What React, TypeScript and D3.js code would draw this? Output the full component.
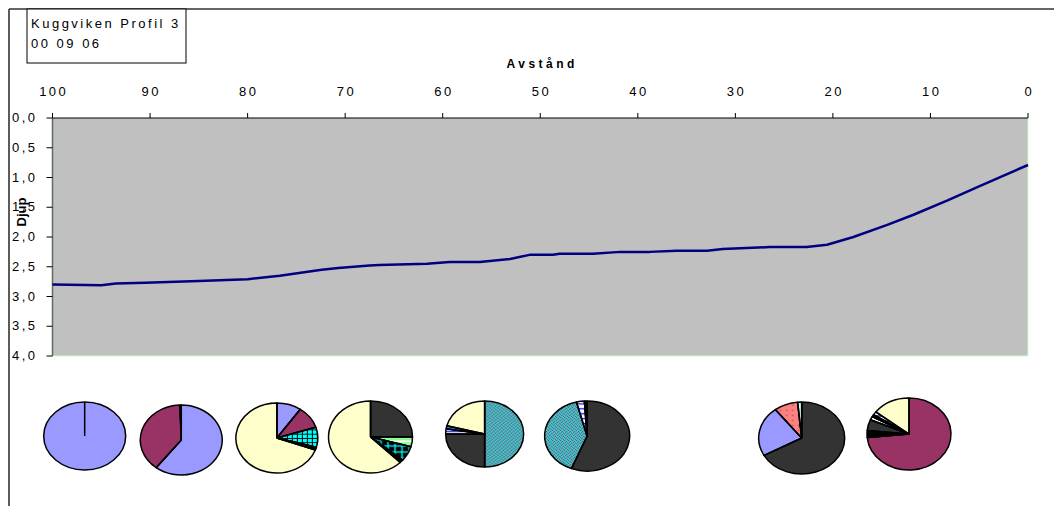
import React from "react";
import * as d3 from "d3";

// ---- data ----
const distances = [100, 95, 93.5, 90.5, 85, 80, 76.7, 72.4, 70.7, 67.5, 66.5, 61.6, 59.3, 56.2, 53.1, 51.1, 48.7, 48, 44.6, 41.8, 38.8, 36, 32.9, 31.3, 26.5, 22.7, 20.6, 17.9, 14.5, 11.8, 8.3, 4.9, 0];
const depths = [2.8, 2.81, 2.78, 2.77, 2.74, 2.71, 2.65, 2.55, 2.52, 2.48, 2.47, 2.45, 2.42, 2.42, 2.37, 2.3, 2.3, 2.28, 2.28, 2.25, 2.25, 2.23, 2.23, 2.2, 2.17, 2.17, 2.13, 2.0, 1.8, 1.63, 1.39, 1.14, 0.79];
const xTicks = [100, 90, 80, 70, 60, 50, 40, 30, 20, 10, 0];
const yTicks = [0, 0.5, 1, 1.5, 2, 2.5, 3, 3.5, 4];
const yTickLabels = ["0,0", "0,5", "1,0", "1,5", "2,0", "2,5", "3,0", "3,5", "4,0"];
const titleLines = ["Kuggviken Profil 3", "00 09 06"];
const xTitle = "Avstånd";
const yTitle = "Djup";

// pie stations (distance) and their composition (category, percent)
const pieStations = [96.7, 86.8, 77.0, 67.4, 55.7, 45.2, 23.2, 12.2];
const pie1: [string, number][] = [["c1", 100]];
const pie2: [string, number][] = [["c1", 60.5], ["c2", 39], ["c8", 0.5]];
const pie3: [string, number][] = [["c1", 9.7], ["c2", 10.3], ["c3", 9.2], ["c4", 0.8], ["c9", 0.6], ["c5", 69.4]];
const pie4: [string, number][] = [["c4", 25], ["c6", 4.4], ["c7", 6.7], ["c2", 0.7], ["c8", 0.7], ["c5", 62.5]];
const pie5: [string, number][] = [["c10", 50], ["c4", 25], ["c11", 2.5], ["c12", 1.5], ["c5", 21]];
const pie6: [string, number][] = [["c4", 56], ["c10", 40], ["c11", 3], ["c8", 1]];
const pie7: [string, number][] = [["c4", 67], ["c1", 22.5], ["c13", 9], ["c14", 1.5]];
const pie8: [string, number][] = [["c2", 73.5], ["c8", 3], ["c4", 5], ["c9", 1.5], ["c8", 1], ["c11", 1.5], ["c5", 14.5]];
const pies = [pie1, pie2, pie3, pie4, pie5, pie6, pie7, pie8];

// ---- styles / layout ----
const fills: Record<string, string> = {
  c1: "#9999FF",
  c2: "#993366",
  c3: "url(#cyanCells)",
  c4: "#333333",
  c5: "#FFFFCC",
  c6: "url(#greenZig)",
  c7: "url(#cyanGrid)",
  c8: "#000000",
  c9: "#FFFFFF",
  c10: "url(#weave)",
  c11: "url(#blueLines)",
  c12: "#339999",
  c13: "url(#salmonDots)",
  c14: "#CCFFFF",
};
const pieLayout = [
  { cy: 436, rx: 41, ry: 34 },
  { cy: 440, rx: 41, ry: 35 },
  { cy: 438, rx: 41, ry: 35 },
  { cy: 437, rx: 42, ry: 36 },
  { cy: 434, rx: 39, ry: 33 },
  { cy: 436, rx: 42.5, ry: 35 },
  { cy: 438, rx: 43, ry: 36 },
  { cy: 434, rx: 42, ry: 36 },
];

const W = 1054;
const H = 506;
const plot = { left: 52.5, right: 1028, top: 118, bottom: 356 };
const FONT = "'Liberation Sans', Arial, sans-serif";
const LS = 2.5;

export default function App() {
  const x = d3.scaleLinear().domain([100, 0]).range([plot.left, plot.right]);
  const y = d3.scaleLinear().domain([0, 4]).range([plot.top, plot.bottom]);
  const line = d3
    .line<number>()
    .x((_, i) => x(distances[i]))
    .y((d) => y(d));
  const pieGen = d3
    .pie<[string, number]>()
    .sort(null)
    .value((d) => d[1])
    .startAngle(0)
    .endAngle(2 * Math.PI);

  return (
    <svg
      width={W}
      height={H}
      style={{ position: "absolute", left: 0, top: 0, background: "#fff" }}
      fontFamily={FONT}
    >
      <defs>
        <pattern id="cyanCells" width={5} height={5} patternUnits="userSpaceOnUse">
          <rect width={5} height={5} fill="#00FFFF" />
          <path d="M0 0.5H5M0.5 0V5" stroke="#000" strokeWidth={1} />
        </pattern>
        <pattern id="cyanGrid" width={7} height={7} patternUnits="userSpaceOnUse">
          <rect width={7} height={7} fill="#000" />
          <path d="M0 3.5H7M3.5 0V7" stroke="#00FFFF" strokeWidth={1.4} />
        </pattern>
        <pattern id="greenZig" width={6} height={5} patternUnits="userSpaceOnUse">
          <rect width={6} height={5} fill="#fff" />
          <path d="M0 4L1.5 1L3 4L4.5 1L6 4" fill="none" stroke="#33FF33" strokeWidth={1} />
        </pattern>
        <pattern id="weave" width={4} height={4} patternUnits="userSpaceOnUse">
          <rect width={4} height={4} fill="#33CCCC" />
          <path d="M0 0L2 2M2 4L4 2" stroke="#993366" strokeWidth={1} />
        </pattern>
        <pattern id="blueLines" width={6} height={6} patternUnits="userSpaceOnUse">
          <rect width={6} height={6} fill="#fff" />
          <path d="M0 3H6" stroke="#0000FF" strokeWidth={1.5} />
        </pattern>
        <pattern id="salmonDots" width={6} height={6} patternUnits="userSpaceOnUse">
          <rect width={6} height={6} fill="#FF8080" />
          <circle cx={3} cy={3} r={0.7} fill="#663333" />
        </pattern>
      </defs>

      {/* outer frame */}
      <line x1={9} y1={9} x2={W} y2={9} stroke="#333" strokeWidth={1.6} />
      <line x1={9} y1={9} x2={9} y2={H} stroke="#333" strokeWidth={1.6} />

      {/* title box */}
      <rect x={27} y={9} width={159} height={54} fill="#fff" stroke="#000" strokeWidth={1} />
      {titleLines.map((t, i) => (
        <text key={i} x={31} y={28 + i * 20} fontSize={13} letterSpacing={LS} fill="#000">
          {t}
        </text>
      ))}

      {/* plot area */}
      <rect
        x={plot.left}
        y={plot.top}
        width={plot.right - plot.left}
        height={plot.bottom - plot.top}
        fill="#C0C0C0"
      />
      <line x1={plot.right} y1={plot.top} x2={plot.right} y2={plot.bottom} stroke="#CCFFCC" strokeWidth={1} />
      <line x1={plot.left} y1={plot.bottom} x2={plot.right} y2={plot.bottom} stroke="#CCFFCC" strokeWidth={1} />
      <line x1={plot.left} y1={plot.top} x2={plot.left} y2={plot.bottom} stroke="#5E6E5E" strokeWidth={1.5} />
      <line x1={plot.left} y1={plot.top} x2={plot.right} y2={plot.top} stroke="#000" strokeWidth={1} />

      {/* top axis */}
      {xTicks.map((t) => (
        <g key={t}>
          <line x1={x(t)} x2={x(t)} y1={plot.top - 5} y2={plot.top} stroke="#000" strokeWidth={1} />
          <text x={x(t) + LS / 2} y={96} textAnchor="middle" fontSize={13} letterSpacing={LS} fill="#000">
            {t}
          </text>
        </g>
      ))}
      <text
        x={(plot.left + plot.right) / 2 + 2}
        y={68}
        textAnchor="middle"
        fontSize={12}
        fontWeight="bold"
        letterSpacing={3.5}
        fill="#000"
      >
        {xTitle}
      </text>

      {/* left axis */}
      {yTicks.map((t, i) => (
        <g key={t}>
          <line x1={plot.left - 6} x2={plot.left} y1={y(t)} y2={y(t)} stroke="#000" strokeWidth={1} />
          <text x={37.5} y={y(t) + 4} textAnchor="end" fontSize={13} letterSpacing={LS} fill="#000">
            {yTickLabels[i]}
          </text>
        </g>
      ))}
      <text
        transform="translate(26,212) rotate(-90)"
        textAnchor="middle"
        fontSize={13}
        fontWeight="bold"
        fill="#000"
      >
        {yTitle}
      </text>

      {/* profile line */}
      <path d={line(depths) || ""} fill="none" stroke="#000080" strokeWidth={2.5} strokeLinejoin="round" />

      {/* pies */}
      {pies.map((slices, pi) => {
        const L = pieLayout[pi];
        const arcs = pieGen(slices);
        const arc = d3.arc<d3.PieArcDatum<[string, number]>>().innerRadius(0).outerRadius(L.rx);
        return (
          <g key={pi} transform={`translate(${x(pieStations[pi])},${L.cy}) scale(1,${L.ry / L.rx})`}>
            {arcs.map((a, i) => (
              <path
                key={i}
                d={arc(a) || ""}
                fill={fills[a.data[0]]}
                stroke="#000"
                strokeWidth={1.5}
                strokeLinejoin="round"
                vectorEffect="non-scaling-stroke"
              />
            ))}
            {arcs.map((a, i) => (
              <line
                key={"r" + i}
                x1={0}
                y1={0}
                x2={L.rx * Math.sin(a.startAngle)}
                y2={-L.rx * Math.cos(a.startAngle)}
                stroke="#000"
                strokeWidth={1.5}
                vectorEffect="non-scaling-stroke"
              />
            ))}
          </g>
        );
      })}
    </svg>
  );
}
